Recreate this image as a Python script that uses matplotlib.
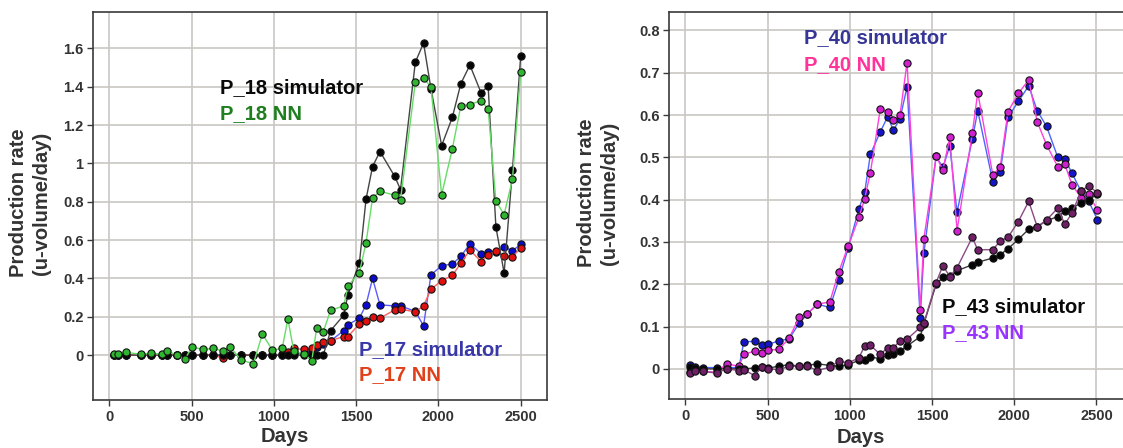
import matplotlib
matplotlib.use("Agg")
import matplotlib.pyplot as plt
from matplotlib.ticker import FixedLocator

plt.rcParams['font.family'] = ['Liberation Sans', 'DejaVu Sans']

# ---------------- left panel: wells P_17 / P_18 ----------------
days_left = [30, 50, 100, 190, 250, 320, 350, 410, 460, 500, 570, 630, 690, 735,
             800, 875, 930, 990, 1050, 1085, 1120, 1180, 1230, 1260, 1300, 1345,
             1425, 1450, 1520, 1560, 1600, 1645, 1735, 1770, 1860, 1910, 1955,
             2020, 2085, 2137, 2192, 2259, 2303, 2350, 2400, 2451, 2501]

p18_sim = [0, 0, 0, 0, 0, 0, 0, 0, 0, 0, 0, 0, 0, 0,
           0, 0, 0, 0, 0, 0, 0, 0, 0, 0, 0, 0.128,
           0.209, 0.315, 0.482, 0.812, 0.984, 1.062, 0.932, 0.864, 1.528, 1.628, 1.39,
           1.093, 1.24, 1.417, 1.513, 1.37, 1.402, 0.669, 0.429, 0.968, 1.562]

p18_nn = [0.005, 0.005, 0.014, 0.005, 0.01, 0.005, 0.022, 0.0, -0.02, 0.042, 0.03, 0.035, 0.022, 0.042,
          -0.025, -0.045, 0.111, 0.026, 0.035, 0.189, 0.024, 0.005, -0.03, 0.141, 0.122, 0.234,
          0.257, 0.36, 0.431, 0.586, 0.82, 0.855, 0.834, 0.811, 1.423, 1.444, 1.40,
          0.837, 1.076, 1.302, 1.307, 1.328, 1.284, 0.804, 0.733, 0.92, 1.478]

p17_sim = [0, 0, 0, 0, 0, 0, 0, 0, 0, 0, 0, 0, 0, 0,
           0, 0, 0, 0, 0, 0.005, 0.01, 0.01, 0.02, 0.045, 0.06, 0.075,
           0.128, 0.158, 0.193, 0.262, 0.40, 0.262, 0.257, 0.257, 0.228, 0.153, 0.419,
           0.466, 0.476, 0.515, 0.581, 0.53, 0.536, 0.54, 0.563, 0.545, 0.578]

p17_nn = [0, 0, 0, 0, 0, 0, 0, 0, 0, 0, 0, 0, -0.015, 0,
          0, 0, 0, 0, 0.005, 0.015, 0.035, 0.03, 0.035, 0.054, 0.066, 0.076,
          0.097, 0.097, 0.163, 0.18, 0.201, 0.193, 0.236, 0.24, 0.225, 0.257, 0.344,
          0.388, 0.416, 0.479, 0.549, 0.488, 0.523, 0.544, 0.518, 0.514, 0.558]

# ---------------- right panel: wells P_40 / P_43 ----------------
days_right = [30, 55, 105, 190, 250, 325, 355, 420, 465, 505, 567, 630, 692, 742,
              802, 878, 932, 990, 1055, 1090, 1125, 1185, 1230, 1265, 1305, 1348,
              1428, 1450, 1525, 1566, 1608, 1652, 1745, 1778, 1870, 1915, 1962,
              2025, 2088, 2140, 2197, 2265, 2307, 2352, 2406, 2452, 2506]

p40_sim = [0.008, 0.005, 0.003, 0.003, 0.003, 0.003, 0.064, 0.065, 0.056, 0.058, 0.066, 0.071, 0.108, 0.13,
           0.153, 0.145, 0.209, 0.286, 0.378, 0.417, 0.507, 0.56, 0.596, 0.564, 0.591, 0.667,
           0.121, 0.273, 0.502, 0.476, 0.527, 0.37, 0.543, 0.61, 0.442, 0.465, 0.595,
           0.632, 0.669, 0.61, 0.573, 0.50, 0.497, 0.462, 0.42, 0.397, 0.353]

p40_nn = [-0.008, -0.002, -0.006, -0.008, 0.012, 0.006, 0.034, 0.042, 0.038, 0.044, 0.046, 0.072, 0.122, 0.13,
          0.153, 0.158, 0.229, 0.29, 0.358, 0.402, 0.464, 0.614, 0.607, 0.588, 0.60, 0.724,
          0.139, 0.307, 0.502, 0.47, 0.547, 0.327, 0.557, 0.653, 0.458, 0.478, 0.608,
          0.651, 0.683, 0.584, 0.529, 0.478, 0.484, 0.435, 0.405, 0.413, 0.376]

p43_sim = [0.005, 0.002, 0, 0, 0, 0, 0, 0.002, 0.004, 0.002, 0.006, 0.01, 0.006, 0.008,
           0.012, 0.008, 0.006, 0.01, 0.02, 0.02, 0.028, 0.024, 0.032, 0.036, 0.042, 0.054,
           0.076, 0.106, 0.2, 0.216, 0.22, 0.232, 0.246, 0.252, 0.262, 0.27, 0.284,
           0.306, 0.33, 0.336, 0.35, 0.36, 0.372, 0.38, 0.392, 0.398, 0.414]

p43_nn = [-0.01, -0.006, -0.006, -0.01, 0.0, -0.004, -0.002, -0.016, 0.004, 0.0, -0.002, 0.006, 0.006, 0.006,
          -0.004, 0.004, 0.018, 0.014, 0.026, 0.054, 0.056, 0.034, 0.05, 0.05, 0.066, 0.07,
          0.098, 0.108, 0.204, 0.244, 0.218, 0.239, 0.311, 0.281, 0.282, 0.302, 0.311,
          0.348, 0.396, 0.336, 0.352, 0.38, 0.342, 0.368, 0.42, 0.433, 0.416]

x_ticks = [0, 500, 1000, 1500, 2000, 2500]
y_ticks_left = [0, 0.2, 0.4, 0.6, 0.8, 1.0, 1.2, 1.4, 1.6]
y_labels_left = ["0", "0.2", "0.4", "0.6", "0.8", "1", "1.2", "1.4", "1.6"]
y_ticks_right = [0, 0.1, 0.2, 0.3, 0.4, 0.5, 0.6, 0.7, 0.8]
y_labels_right = ["0", "0.1", "0.2", "0.3", "0.4", "0.5", "0.6", "0.7", "0.8"]

W, H = 1123, 448
fig = plt.figure(figsize=(W / 100, H / 100), dpi=100)
fig.patch.set_facecolor("white")


def px_axes(x0, y0, x1, y1):
    """Axes placed by pixel edges (left, top, right, bottom)."""
    return fig.add_axes([x0 / W, 1 - y1 / H, (x1 - x0) / W, (y1 - y0) / H])


def style(ax, yticks, ylabels):
    ax.set_xticks(x_ticks)
    ax.set_yticks(yticks)
    ax.set_yticklabels(ylabels)
    ax.grid(True, color="#cac7c3", linewidth=1.2, zorder=0)
    ax.set_axisbelow(True)
    for s in ax.spines.values():
        s.set_color("#3a3a3a")
        s.set_linewidth(1.2)
    ax.tick_params(axis="both", direction="out", length=4, width=1,
                   color="#3a3a3a", labelsize=10.5, labelcolor="#333333", pad=3)
    for lab in ax.get_xticklabels() + ax.get_yticklabels():
        lab.set_fontweight("bold")


def series(ax, x, y, line_c, face_c, z):
    ax.plot(x, y, color=line_c, lw=1.0, zorder=z, marker="o", ms=5.2,
            mfc=face_c, mec="#111111", mew=0.8)


# left axes
axL = px_axes(93.3, 12, 546.7, 400)
axL.set_xlim(-98.5, 2659)
axL.set_ylim(-0.234, 1.79)
style(axL, y_ticks_left, y_labels_left)
series(axL, days_left, p17_sim, "#5a5aff", "#0a0ad0", 3)
series(axL, days_left, p17_nn, "#ff6060", "#e01010", 4)
series(axL, days_left, p18_sim, "#444444", "#050505", 5)
series(axL, days_left, p18_nn, "#66dd66", "#2fb52f", 6)

txt = dict(fontsize=14.5, fontweight="bold", ha="left", va="center", zorder=10)
axL.text(672, 1.397, "P_18 simulator", color="#0a0a0a", **txt)
axL.text(672, 1.258, "P_18 NN", color="#1f7f1f", **txt)
axL.text(1519, 0.031, "P_17 simulator", color="#3838a8", **txt)
axL.text(1519, -0.103, "P_17 NN", color="#e0401a", **txt)

# right axes (its right edge runs off the canvas)
axR = px_axes(669.3, 12, 1126, 399.3)
axR.set_xlim(-98.5, 2680)
axR.set_ylim(-0.072, 0.8435)
style(axR, y_ticks_right, y_labels_right)
series(axR, days_right, p40_sim, "#4a66ff", "#1414c8", 3)
series(axR, days_right, p40_nn, "#ff40dd", "#d020d0", 4)
series(axR, days_right, p43_sim, "#3a3a3a", "#050505", 5)
series(axR, days_right, p43_nn, "#8a4a88", "#6e1f66", 6)

axR.text(721, 0.784, "P_40 simulator", color="#363696", **txt)
axR.text(721, 0.720, "P_40 NN", color="#ff3399", **txt)
axR.text(1558, 0.147, "P_43 simulator", color="#0a0a0a", **txt)
axR.text(1558, 0.085, "P_43 NN", color="#9933ff", **txt)

# axis titles
lab = dict(fontsize=14.5, fontweight="bold", color="#333333", ha="center", va="center")
fig.text(30 / W, 1 - 203 / H, "Production rate\n(u-volume/day)", rotation=90,
         linespacing=1.25, **lab)
fig.text(598 / W, 1 - 193 / H, "Production rate\n(u-volume/day)", rotation=90,
         linespacing=1.25, **lab)
fig.text(285 / W, 1 - 436 / H, "Days", **lab)
fig.text(861 / W, 1 - 437 / H, "Days", **lab)

fig.savefig("out.png", dpi=100, facecolor="white")
